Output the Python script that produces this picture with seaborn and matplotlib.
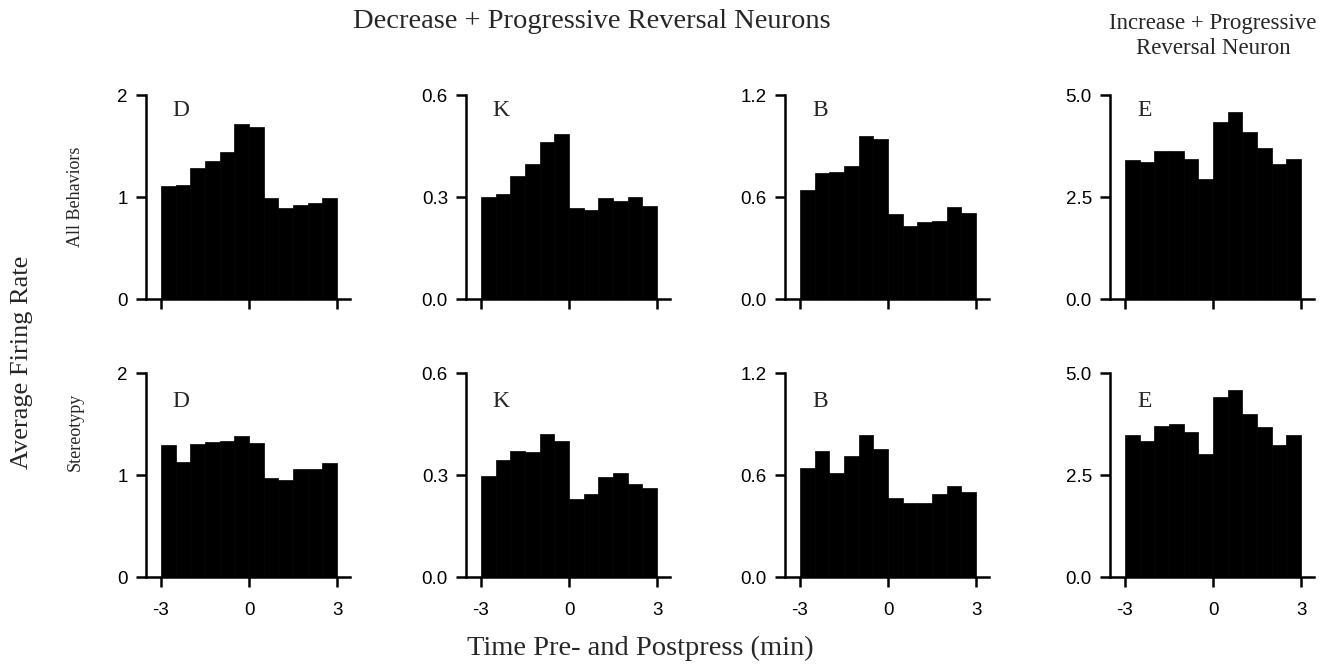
import numpy as np
import pandas as pd
import matplotlib
matplotlib.use("Agg")
import matplotlib.pyplot as plt
import seaborn as sns

# ---- data ----
time_bins = [-2.75, -2.25, -1.75, -1.25, -0.75, -0.25, 0.25, 0.75, 1.25, 1.75, 2.25, 2.75]
bin_edges = [-3.0, -2.5, -2.0, -1.5, -1.0, -0.5, 0.0, 0.5, 1.0, 1.5, 2.0, 2.5, 3.0]

all_D = [1.11, 1.12, 1.28, 1.35, 1.44, 1.72, 1.69, 0.99, 0.89, 0.92, 0.94, 0.99]
all_K = [0.300, 0.308, 0.361, 0.398, 0.462, 0.486, 0.269, 0.262, 0.296, 0.289, 0.300, 0.274]
all_B = [0.644, 0.739, 0.747, 0.782, 0.960, 0.941, 0.499, 0.432, 0.451, 0.457, 0.539, 0.505]
all_E = [3.40, 3.36, 3.63, 3.63, 3.44, 2.94, 4.34, 4.59, 4.10, 3.70, 3.31, 3.43]

st_D = [1.29, 1.13, 1.30, 1.32, 1.33, 1.38, 1.31, 0.97, 0.95, 1.06, 1.06, 1.12]
st_K = [0.298, 0.344, 0.372, 0.369, 0.421, 0.400, 0.228, 0.243, 0.293, 0.305, 0.273, 0.261]
st_B = [0.644, 0.740, 0.614, 0.710, 0.836, 0.754, 0.464, 0.436, 0.436, 0.486, 0.534, 0.500]
st_E = [3.47, 3.33, 3.71, 3.75, 3.55, 3.02, 4.40, 4.59, 4.00, 3.68, 3.24, 3.49]

neuron_labels = ["D", "K", "B", "E"]
y_max = [2.0, 0.6, 1.2, 5.0]
y_ticks = [[0, 1, 2], [0.0, 0.3, 0.6], [0.0, 0.6, 1.2], [0.0, 2.5, 5.0]]
y_ticklabels = [["0", "1", "2"], ["0.0", "0.3", "0.6"], ["0.0", "0.6", "1.2"], ["0.0", "2.5", "5.0"]]
x_ticks = [-3, 0, 3]
x_ticklabels = ["-3", "0", "3"]

rows = [[all_D, all_K, all_B, all_E], [st_D, st_K, st_B, st_E]]
row_labels = ["All Behaviors", "Stereotypy"]

# ---- style ----
sns.set_style("ticks")
plt.rcParams["font.family"] = ["Liberation Sans", "DejaVu Sans"]
serif = ["Liberation Serif", "DejaVu Serif"]

W, H = 1321, 664
fig = plt.figure(figsize=(W / 100, H / 100), dpi=100)

col_left = [146, 466, 785, 1110]
row_top = [95, 373]
ax_w, ax_h = 204, 204

for r in range(2):
    for c in range(4):
        left = col_left[c] / W
        bottom = 1 - (row_top[r] + ax_h) / H
        ax = fig.add_axes([left, bottom, ax_w / W, ax_h / H])
        df = pd.DataFrame({"t": time_bins, "rate": rows[r][c]})
        sns.histplot(data=df, x="t", weights="rate", bins=bin_edges, ax=ax,
                     color="black", edgecolor="black", linewidth=0.5, alpha=1)
        ax.set_xlim(-3.51, 3.44)
        ax.set_ylim(0, y_max[c])
        ax.set_yticks(y_ticks[c])
        ax.set_yticklabels(y_ticklabels[c])
        ax.set_xticks(x_ticks)
        if r == 1:
            ax.set_xticklabels(x_ticklabels)
        else:
            ax.set_xticklabels([])
        ax.set_xlabel("")
        ax.set_ylabel("")
        for s in ["top", "right"]:
            ax.spines[s].set_visible(False)
        for s in ["left", "bottom"]:
            ax.spines[s].set_linewidth(1.8)
            ax.spines[s].set_color("black")
        ax.tick_params(axis="both", width=1.8, length=7, labelsize=13.5,
                       color="black", labelcolor="black")
        ax.tick_params(axis="y", pad=6)
        ax.tick_params(axis="x", pad=11)
        ax.text(0.17, 0.925 if r == 0 else 0.86, neuron_labels[c],
                transform=ax.transAxes, ha="center", va="center",
                fontsize=17, family=serif)

# ---- figure texts ----
fig.text(592 / W, 1 - 22 / H, "Decrease + Progressive Reversal Neurons",
         ha="center", va="center", fontsize=20.5, family=serif)
fig.text(1213 / W, 1 - 36 / H, "Increase + Progressive\nReversal Neuron",
         ha="center", va="center", fontsize=16.5, family=serif, linespacing=1.2)
fig.text(22 / W, 1 - 362 / H, "Average Firing Rate", rotation=90,
         ha="center", va="center", fontsize=19, family=serif)
fig.text(75 / W, 1 - 197 / H, row_labels[0], rotation=90,
         ha="center", va="center", fontsize=13, family=serif)
fig.text(75 / W, 1 - 432 / H, row_labels[1], rotation=90,
         ha="center", va="center", fontsize=13, family=serif)
fig.text(640 / W, 1 - 648 / H, "Time Pre- and Postpress (min)",
         ha="center", va="center", fontsize=20.5, family=serif)

fig.savefig("out.png", dpi=100, facecolor="white")
